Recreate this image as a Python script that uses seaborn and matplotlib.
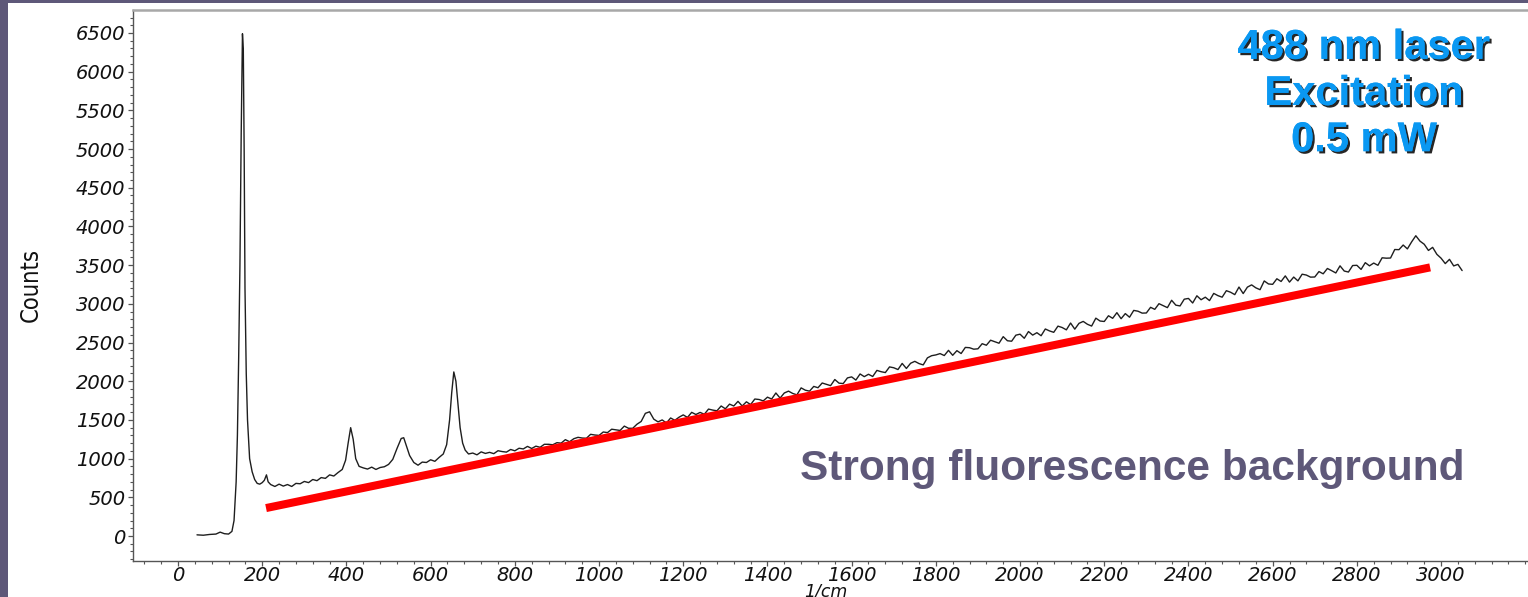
import numpy as np
import pandas as pd
import matplotlib
matplotlib.use("Agg")
import matplotlib.pyplot as plt
from matplotlib import patheffects as pe
from matplotlib.patches import Rectangle
from matplotlib.ticker import MultipleLocator
import seaborn as sns

# Raman spectrum, low-shift part (lattice mode and the three bands)
low_shift = [45, 60, 75, 90, 100, 110, 120, 128, 133, 138, 141, 144, 147, 150,
             153, 155, 157, 159, 162, 165, 170, 176, 182, 188, 194, 200, 205,
             210, 214, 220, 230, 240, 250, 260, 270, 280, 290, 300, 310, 320,
             330, 340, 350, 360, 370, 380, 390, 398, 404, 410, 416, 422, 430,
             440, 450, 460, 470, 480, 490, 500, 510, 520, 530, 536, 542, 550,
             560, 570, 580, 590, 600, 610, 620, 630, 638, 645, 650, 655, 660,
             665, 670, 676, 682, 690]
low_counts = [15, 10, 20, 25, 50, 30, 25, 60, 200, 700, 1300, 2300, 3500, 5200,
              6490, 6300, 5000, 3200, 2100, 1500, 1000, 830, 730, 680, 670, 690,
              720, 790, 700, 665, 640, 670, 645, 665, 640, 680, 675, 705, 690,
              730, 715, 755, 745, 790, 775, 820, 860, 980, 1200, 1400, 1250,
              1000, 900, 880, 865, 890, 860, 885, 895, 925, 990, 1130, 1260,
              1270, 1170, 1040, 950, 915, 955, 950, 985, 965, 1015, 1060, 1180,
              1500, 1850, 2120, 2000, 1700, 1400, 1200, 1110, 1060]

# High-shift part, sampled every 10 1/cm from 700 to 3050
high_start, high_stop, high_step = 700, 3050, 10
high_counts = [
    1072, 1049, 1087, 1067, 1081, 1064, 1102, 1091, 1084, 1118,
    1101, 1134, 1125, 1158, 1131, 1161, 1146, 1185, 1185, 1179,
    1206, 1200, 1245, 1218, 1257, 1275, 1266, 1263, 1314, 1305,
    1300, 1344, 1336, 1380, 1372, 1364, 1420, 1392, 1392, 1444,
    1480, 1585, 1605, 1510, 1475, 1500, 1460, 1525, 1495, 1535,
    1565, 1532, 1598, 1570, 1597, 1573, 1640, 1627, 1618, 1680,
    1644, 1704, 1680, 1740, 1680, 1734, 1698, 1770, 1764, 1746,
    1794, 1770, 1848, 1782, 1848, 1872, 1842, 1824, 1914, 1884,
    1872, 1933, 1916, 1977, 1960, 1943, 2022, 1975, 1970, 2043,
    2056, 2015, 2094, 2059, 2090, 2061, 2140, 2123, 2112, 2185,
    2174, 2151, 2230, 2165, 2232, 2257, 2228, 2211, 2302, 2330,
    2340, 2357, 2332, 2399, 2335, 2395, 2358, 2437, 2433, 2414,
    2419, 2485, 2465, 2530, 2511, 2491, 2576, 2523, 2517, 2595,
    2608, 2555, 2642, 2596, 2627, 2588, 2675, 2650, 2632, 2712,
    2694, 2664, 2752, 2673, 2748, 2773, 2736, 2713, 2815, 2778,
    2772, 2846, 2813, 2886, 2808, 2874, 2827, 2915, 2905, 2880,
    2882, 2955, 2929, 3002, 2977, 2951, 3046, 2983, 2973, 3060,
    3070, 3011, 3104, 3053, 3086, 3042, 3135, 3106, 3086, 3170,
    3150, 3119, 3217, 3133, 3216, 3245, 3207, 3183, 3296, 3257,
    3252, 3324, 3289, 3361, 3281, 3346, 3297, 3383, 3372, 3345,
    3347, 3417, 3388, 3457, 3429, 3399, 3491, 3424, 3411, 3495,
    3498, 3445, 3532, 3491, 3527, 3498, 3595, 3590, 3592, 3702,
    3700, 3760, 3710, 3800, 3880, 3810, 3770, 3690, 3730, 3640,
    3590, 3520, 3575, 3490, 3510, 3430,
]

# Straight guide marking the rising fluorescence background
background_shift = [209, 2974]
background_counts = [361, 3471]

laser_note = "488 nm laser\nExcitation\n0.5 mW"
background_note = "Strong fluorescence background"

high_shift = np.arange(high_start, high_stop + 1, high_step)
spectrum = pd.DataFrame({
    "shift": np.concatenate([low_shift, high_shift]),
    "counts": np.concatenate([low_counts, high_counts]),
})
guide = pd.DataFrame({"shift": background_shift, "counts": background_counts})

sns.set_theme(style="ticks")
plt.rcParams["font.family"] = ["DejaVu Sans"]

W, H = 1528, 597
fig = plt.figure(figsize=(W / 100, H / 100), dpi=100, facecolor="white")

# axes box: left spine at x=133 px, top at y=10 px, bottom at y=561 px,
# running past the right edge of the canvas
AX_L, AX_R, AX_T, AX_B = 133, 1540, 10, 561
ax = fig.add_axes([AX_L / W, 1 - AX_B / H, (AX_R - AX_L) / W, (AX_B - AX_T) / H])
ax.set_facecolor("white")

sns.lineplot(data=spectrum, x="shift", y="counts", ax=ax, sort=False,
             estimator=None, color="#1e1e1e", linewidth=1.0)
sns.lineplot(data=guide, x="shift", y="counts", ax=ax, sort=False,
             estimator=None, color="#ff0000", linewidth=5.8,
             solid_capstyle="butt")

ax.set_xlim(-107, 3235)
ax.set_ylim(-323, 6797)

ax.xaxis.set_minor_locator(MultipleLocator(40))
ax.yaxis.set_minor_locator(MultipleLocator(100))

tick_font = dict(family="DejaVu Sans", style="oblique", size=14)
ax.set_xticks(np.arange(0, 3001, 200))
ax.set_yticks(np.arange(0, 6501, 500))
ax.set_xticklabels([f"{v}" for v in range(0, 3001, 200)], fontdict=tick_font)
ax.set_yticklabels([f"{v}" for v in range(0, 6501, 500)], fontdict=tick_font)
ax.tick_params(which="major", direction="out", length=3.5, width=0.9,
               color="#555555", labelcolor="#111111")
ax.tick_params(axis="y", which="major", pad=2)
ax.tick_params(axis="x", which="major", pad=0)
ax.tick_params(which="minor", direction="out", length=2.5, width=0.8,
               color="#555555")

for side in ("left", "bottom"):
    ax.spines[side].set_color("#555555")
    ax.spines[side].set_linewidth(1.0)
ax.spines["top"].set_color("#a8a8a8")
ax.spines["top"].set_linewidth(1.8)
ax.spines["right"].set_visible(False)

ax.set_xlabel("1/cm", fontdict=dict(family="DejaVu Sans", style="oblique",
                                    size=12.5), color="#111111")
ax.xaxis.set_label_coords((826 - AX_L) / (AX_R - AX_L),
                          (AX_B - 582) / (AX_B - AX_T))
ax.set_ylabel("Counts", fontdict=dict(family=["Liberation Sans Narrow",
                                              "DejaVu Sans"],
                                      stretch="condensed", size=17),
              color="#111111")
ax.yaxis.set_label_coords((43 - AX_L) / (AX_R - AX_L), 0.5)

# annotations
fig.text(1364 / W, 1 - 94 / H, laser_note, ha="center", va="center",
         multialignment="center", fontsize=30, fontweight="bold",
         family=["Liberation Sans", "DejaVu Sans"], color="#0a98f2",
         linespacing=1.2,
         path_effects=[pe.withSimplePatchShadow(offset=(1.6, -1.6),
                                                shadow_rgbFace="black",
                                                alpha=0.85),
                       pe.Normal()])
fig.text(1132 / W, 1 - 469 / H, background_note, ha="center", va="center",
         fontsize=30.5, fontweight="bold",
         family=["Liberation Sans", "DejaVu Sans"], color="#5e5879")

# slide frame strips on the left and top edges
fig.patches.append(Rectangle((0, 0), 8 / W, 1, transform=fig.transFigure,
                             facecolor="#5e5879", edgecolor="none", zorder=10))
fig.patches.append(Rectangle((0, 1 - 3 / H), 1, 3 / H,
                             transform=fig.transFigure, facecolor="#5e5879",
                             edgecolor="none", zorder=10))

fig.savefig("out.png", dpi=100, facecolor="white")
